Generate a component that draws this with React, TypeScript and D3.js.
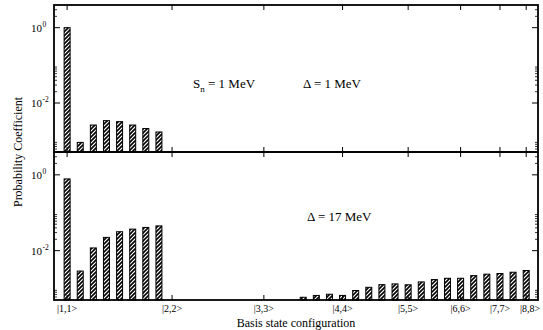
import React from 'react';
import * as d3 from 'd3';

// basis state tick positions (state index) and labels
const tickIndex = [0, 8, 15, 21, 26, 30, 33, 35];
const tickLabels = ['|1,1>', '|2,2>', '|3,3>', '|4,4>', '|5,5>', '|6,6>', '|7,7>', '|8,8>'];

// upper panel: Sn = 1 MeV, Delta = 1 MeV
const topIdx = [0, 1, 2, 3, 4, 5, 6, 7];
const topVals = [1.0, 9.0e-4, 2.6e-3, 3.4e-3, 3.2e-3, 2.6e-3, 2.1e-3, 1.7e-3];

// lower panel: Delta = 17 MeV
const botIdx = [0, 1, 2, 3, 4, 5, 6, 7,
  18, 19, 20, 21, 22, 23, 24, 25, 26, 27, 28, 29, 30, 31, 32, 33, 34, 35];
const botVals = [0.78, 2.9e-3, 0.0118, 0.0224, 0.0316, 0.037, 0.041, 0.045,
  5.9e-4, 6.6e-4, 7.1e-4, 6.6e-4, 8.9e-4, 1.08e-3, 1.27e-3, 1.33e-3, 1.26e-3,
  1.5e-3, 1.73e-3, 1.87e-3, 1.87e-3, 2.2e-3, 2.4e-3, 2.5e-3, 2.7e-3, 3.0e-3];

const yMajor = [1, 0.01];
const yMajorExp = ['0', '-2'];
const yDomain: [number, number] = [5e-4, 4];

const W = 543;
const H = 330;
const left = 54;
const right = 538;
const font = '"Liberation Serif", "Times New Roman", serif';

const x = d3.scaleLinear().domain([-1, 35.9]).range([left, right]);

// minor ticks: 2..9 times every second decade
const yMinor: number[] = [];
[1, 0.01, 0.0001].forEach(m => {
  for (let k = 2; k <= 9; k++) {
    const v = k * m;
    if (v > yDomain[0] && v < yDomain[1]) yMinor.push(v);
  }
});

function Panel({ top, bottom, idx, vals }: { top: number; bottom: number; idx: number[]; vals: number[] }) {
  const y = d3.scaleLog().domain(yDomain).range([bottom, top]);
  const bw = 6;
  return (
    <g>
      {idx.map((i, n) => (
        <rect key={n} x={x(i) - bw / 2} y={y(vals[n])} width={bw} height={bottom - y(vals[n])}
          fill="url(#hatch)" stroke="#000" strokeWidth={1} />
      ))}
      {/* frame */}
      <rect x={left} y={top} width={right - left} height={bottom - top} fill="none" stroke="#000" strokeWidth={1.8} />
      {/* x ticks bottom and top */}
      {tickIndex.map((i, n) => (
        <g key={n}>
          <line x1={x(i)} x2={x(i)} y1={bottom} y2={bottom - 5} stroke="#000" strokeWidth={1} />
          <line x1={x(i)} x2={x(i)} y1={top} y2={top + 5} stroke="#000" strokeWidth={1} />
        </g>
      ))}
      {/* y ticks, both sides */}
      {yMajor.map((v, n) => (
        <g key={n}>
          <line x1={left} x2={left + 6} y1={y(v)} y2={y(v)} stroke="#000" strokeWidth={1} />
          <line x1={right} x2={right - 6} y1={y(v)} y2={y(v)} stroke="#000" strokeWidth={1} />
          <text x={42} y={y(v) + 4} textAnchor="end" fontSize={11} fontFamily={font}>10</text>
          <text x={42.5} y={y(v) - 1} textAnchor="start" fontSize={7.5} fontFamily={font}>{yMajorExp[n]}</text>
        </g>
      ))}
      {yMinor.map((v, n) => (
        <g key={n}>
          <line x1={left} x2={left + 3} y1={y(v)} y2={y(v)} stroke="#000" strokeWidth={0.8} />
          <line x1={right} x2={right - 3} y1={y(v)} y2={y(v)} stroke="#000" strokeWidth={0.8} />
        </g>
      ))}
    </g>
  );
}

export default function App() {
  return (
    <svg width={W} height={H} style={{ position: 'fixed', left: 0, top: 0, background: '#fff' }}>
      <defs>
        <pattern id="hatch" patternUnits="userSpaceOnUse" width={4} height={4}>
          <rect width={4} height={4} fill="#fff" />
          <path d="M-1,1 l2,-2 M0,4 l4,-4 M3,5 l2,-2" stroke="#000" strokeWidth={1.6} />
        </pattern>
      </defs>
      <rect width={W} height={H} fill="#fff" />
      <Panel top={5} bottom={152} idx={topIdx} vals={topVals} />
      <Panel top={152} bottom={300} idx={botIdx} vals={botVals} />

      {tickIndex.map((i, n) => (
        <text key={n} x={x(i) + (n === tickIndex.length - 1 ? 4 : 0)} y={312} textAnchor="middle" fontSize={10} fontFamily={font}>{tickLabels[n]}</text>
      ))}

      <text x={(left + right) / 2} y={327} textAnchor="middle" fontSize={12} fontFamily={font}>Basis state configuration</text>
      <text transform="translate(22,152) rotate(-90)" textAnchor="middle" fontSize={12} fontFamily={font}>Probability Coefficient</text>

      <text x={193} y={88} fontSize={13} fontFamily={font}>S<tspan dy={4} fontSize={9}>n</tspan><tspan dy={-4}> = 1 MeV</tspan></text>
      <text x={303} y={88} fontSize={13} fontFamily={font}>Δ = 1 MeV</text>
      <text x={307} y={221} fontSize={13} fontFamily={font}>Δ = 17 MeV</text>
    </svg>
  );
}
